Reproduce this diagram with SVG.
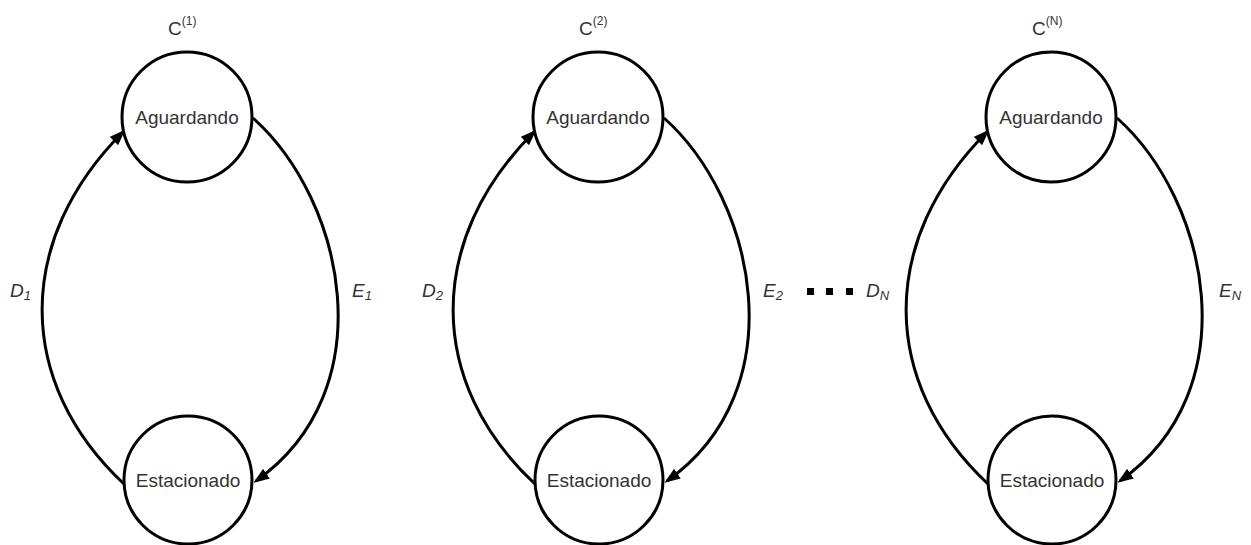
<svg xmlns="http://www.w3.org/2000/svg" width="1251" height="545" viewBox="0 0 1251 545">
  <defs>
    <marker id="arr" markerUnits="userSpaceOnUse" markerWidth="16" markerHeight="12" viewBox="0 0 15 11" refX="12" refY="5.5" orient="auto">
      <path d="M0,0 L15,5.5 L0,11 z" fill="#000"/>
    </marker>
    <style>
      .node{fill:#fff;stroke:#000;stroke-width:3}
      .lbl{font-family:"Liberation Sans",Arial,sans-serif;font-size:19px;fill:#333;text-anchor:middle}
      .title{font-family:"Liberation Sans",Arial,sans-serif;font-size:19px;fill:#333}
      .sup{font-size:12px}
      .var{font-family:"Liberation Sans",Arial,sans-serif;font-size:19px;font-style:italic;fill:#333}
      .sub{font-size:13px}
      .edge{fill:none;stroke:#000;stroke-width:3;marker-end:url(#arr)}
    </style>
  </defs>
  <rect width="1251" height="545" fill="#fff"/>

  <g id="connectors">
    <!-- chain 1 (cx=187) -->
    <path class="edge" d="M124,484 C15,382 15,240 123,132"/>
    <path class="edge" d="M253,118 C345,200 385,390 256,481"/>
    <!-- chain 2 (cx=598) -->
    <path class="edge" d="M535,484 C426,382 426,240 534,132"/>
    <path class="edge" d="M664,118 C756,200 796,390 667,481"/>
    <!-- chain 3 (cx=1051) -->
    <path class="edge" d="M988,484 C879,382 879,240 987,132"/>
    <path class="edge" d="M1117,118 C1209,200 1249,390 1120,481"/>
  </g>

  <g id="title1"><text class="title" x="168" y="35">C<tspan class="sup" dy="-10">(1)</tspan></text></g>
  <g id="title2"><text class="title" x="579" y="35">C<tspan class="sup" dy="-10">(2)</tspan></text></g>
  <g id="titleN"><text class="title" x="1032" y="35">C<tspan class="sup" dy="-10">(N)</tspan></text></g>

  <g id="aguardando1"><circle class="node" cx="187" cy="117" r="65"/><text class="lbl" x="187" y="124">Aguardando</text></g>
  <g id="estacionado1"><circle class="node" cx="188" cy="480" r="64"/><text class="lbl" x="188" y="487">Estacionado</text></g>
  <g id="aguardando2"><circle class="node" cx="598" cy="117" r="65"/><text class="lbl" x="598" y="124">Aguardando</text></g>
  <g id="estacionado2"><circle class="node" cx="599" cy="480" r="64"/><text class="lbl" x="599" y="487">Estacionado</text></g>
  <g id="aguardandoN"><circle class="node" cx="1051" cy="117" r="65"/><text class="lbl" x="1051" y="124">Aguardando</text></g>
  <g id="estacionadoN"><circle class="node" cx="1052" cy="480" r="64"/><text class="lbl" x="1052" y="487">Estacionado</text></g>

  <g id="labels">
    <text class="var" x="10" y="297">D<tspan class="sub" dy="3">1</tspan></text>
    <text class="var" x="352" y="297">E<tspan class="sub" dy="3">1</tspan></text>
    <text class="var" x="422" y="297">D<tspan class="sub" dy="3">2</tspan></text>
    <text class="var" x="763" y="297">E<tspan class="sub" dy="3">2</tspan></text>
    <text class="var" x="866" y="297">D<tspan class="sub" dy="3">N</tspan></text>
    <text class="var" x="1219" y="297">E<tspan class="sub" dy="3">N</tspan></text>
  </g>

  <g id="ellipsis" fill="#000">
    <rect x="807" y="288" width="7" height="7"/>
    <rect x="826" y="288" width="7" height="7"/>
    <rect x="846" y="288" width="7" height="7"/>
  </g>
</svg>
